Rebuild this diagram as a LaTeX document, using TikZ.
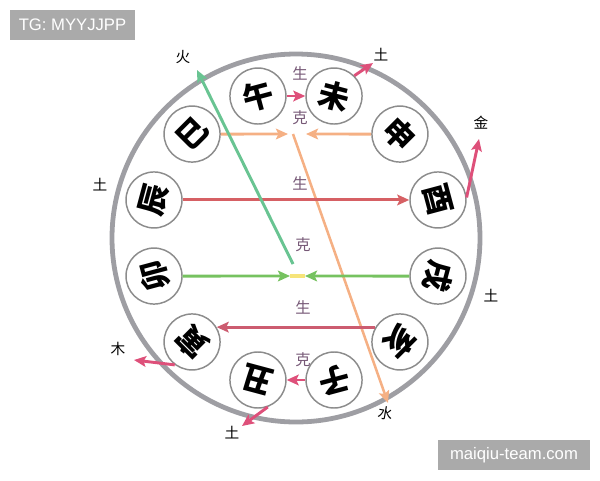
\documentclass[tikz,border=0pt]{standalone}
\usepackage{fontspec}
\newfontfamily\cjk{Noto Sans CJK SC}
\newfontfamily\wmfont{Liberation Sans}
\usetikzlibrary{arrows.meta}

\definecolor{rimgray}{RGB}{158,158,163}
\definecolor{ringgray}{RGB}{140,140,140}
\definecolor{relpurple}{RGB}{118,88,118}
\definecolor{rosepink}{RGB}{222,80,122}
\definecolor{peach}{RGB}{245,176,132}
\definecolor{brickred}{RGB}{214,96,100}
\definecolor{dustyred}{RGB}{204,92,112}
\definecolor{leafgreen}{RGB}{118,194,96}
\definecolor{seagreen}{RGB}{105,196,146}
\definecolor{softyellow}{RGB}{246,228,122}
\definecolor{markgray}{RGB}{170,170,170}

\tikzset{
  branch/.style={circle,draw=ringgray,line width=1.1pt,fill=white,minimum size=42pt,inner sep=0pt},
  glyph/.style={inner sep=0pt,font=\cjk\bfseries\fontsize{23}{23}\selectfont},
  rel/.style={inner sep=0.75pt,text=relpurple,font=\cjk\fontsize{11.5}{11.5}\selectfont},
  elem/.style={inner sep=0.75pt,font=\cjk\fontsize{11}{11}\selectfont},
  link/.style={line width=2.2pt,-{Stealth[length=9pt,width=8pt,inset=1.8pt]}},
  watermark/.style={fill=markgray,text=white,font=\wmfont\fontsize{12.5}{12.5}\selectfont,inner sep=0pt}
}

\begin{document}
\begin{tikzpicture}[x=0.75pt,y=0.75pt,yscale=-1,xscale=1]
\useasboundingbox (0,0) rectangle (600,480);

%Shape: Circle
\coordinate (hub) at (296,238);
\draw [color=rimgray,line width=3.6pt] (hub) circle [radius=184];

% the twelve branches
\foreach \a/\n/\t in {15/you/酉,45/shen/申,75/wei/未,105/wu/午,135/si/巳,165/chen/辰,
                      195/mao/卯,225/yin/寅,255/chou/丑,285/zi/子,315/hai/亥,345/xu/戌}{
  \node [branch] (\n) at ({296+147*cos(\a)},{238-147*sin(\a)}) {};
  \node [glyph,rotate=\a-90] (\n t) at (\n) {\t};
}

% Text Node
\node [elem] (huo) at (183,57) {火};
\node [elem] (tuA) at (381,55) {土};
\node [elem] (jin) at (481,123) {金};
\node [elem] (tuB) at (100,185) {土};
\node [elem] (tuC) at (491,296) {土};
\node [elem] (mu) at (118,349) {木};
\node [elem] (tuD) at (232,433) {土};
\node [elem,rotate=-10] (shui) at (386,413) {水};

\node [rel] (sheng1) at (300,73) {生};
\node [rel] (ke1) at (300,118) {克};
\node [rel] (sheng2) at (300,183) {生};
\node [rel] (ke2) at (303,245) {克};
\node [rel] (sheng3) at (303,307) {生};
\node [rel] (ke3) at (303,360) {克};

% free ends
\coordinate (tuAtip) at (373,63);
\coordinate (jintip) at (479,139);
\coordinate (mutip) at (134,360);
\coordinate (tuDtip) at (242,426);
\coordinate (shuitip) at (388,403);
\coordinate (huotip) at (197,70);
\coordinate (keL) at (288,134);
\coordinate (keM) at (293,134);
\coordinate (keR) at (306,134);
\coordinate (gL) at (290,276);
\coordinate (gM) at (293,264);
\coordinate (gR) at (305,276);

%Straight Lines
\draw [link,color=rosepink] (wu) -- (wei);
\draw [link,color=rosepink] (wei.45) -- (tuAtip);
\draw [link,color=rosepink] (you.5) -- (jintip);
\draw [link,color=rosepink] (yin.233) -- (mutip);
\draw [link,color=rosepink] (chou.290) -- (tuDtip);
\draw [link,color=rosepink] (zi) -- (chou);

%Straight Lines
\draw [link,color=peach] (si) -- (keL);
\draw [link,color=peach] (shen) -- (keR);
\draw [link,color=peach,line width=1.9pt] (keM) -- (shuitip);

%Straight Lines
\draw [link,color=brickred] (chen) -- (you);
\draw [link,color=dustyred] (hai.149) -- (yin.31);

%Straight Lines
\draw [color=softyellow,line width=2.6pt] (gL) -- (gR);
\draw [link,color=leafgreen] (mao) -- (gL);
\draw [link,color=leafgreen] (xu) -- (gR);
\draw [link,color=seagreen] (gM) -- (huotip);

% watermarks
\node [watermark,minimum width=93.75pt,minimum height=22.5pt] (tg) at (72.5,25) {TG: MYYJJPP};
\node [watermark,minimum width=114pt,minimum height=22.5pt] (site) at (514,455) {maiqiu-team.com};

\end{tikzpicture}
\end{document}
